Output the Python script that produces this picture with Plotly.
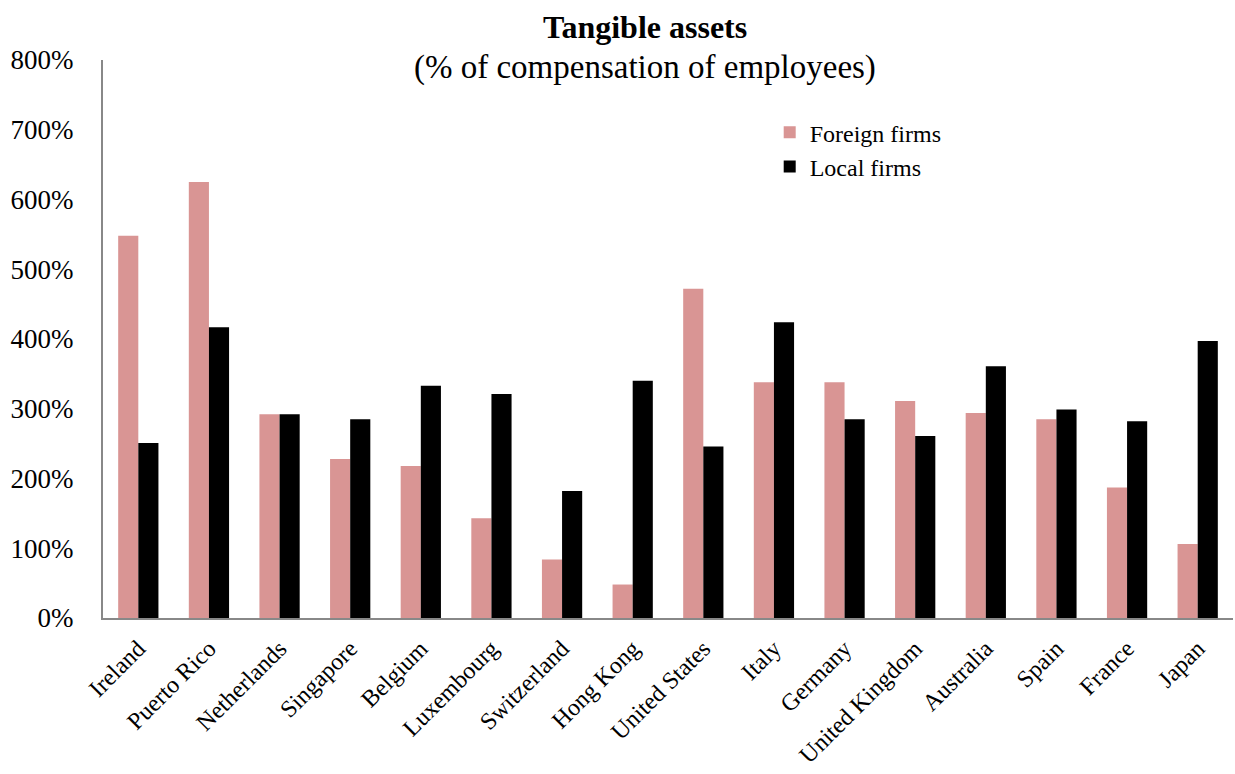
import plotly.graph_objects as go

countries = ["Ireland", "Puerto Rico", "Netherlands", "Singapore", "Belgium", "Luxembourg",
             "Switzerland", "Hong Kong", "United States", "Italy", "Germany", "United Kingdom",
             "Australia", "Spain", "France", "Japan"]
foreign_firms = [548, 625, 292, 228, 218, 143, 84, 48, 472, 338, 338, 311, 294, 285, 187, 106]
local_firms = [251, 417, 292, 285, 333, 321, 182, 340, 246, 424, 285, 261, 361, 299, 282, 397]
y_ticks = [0, 100, 200, 300, 400, 500, 600, 700, 800]
y_tick_labels = ["0%", "100%", "200%", "300%", "400%", "500%", "600%", "700%", "800%"]

FONT = "Liberation Serif"

fig = go.Figure()
fig.add_trace(go.Bar(x=countries, y=foreign_firms, name="Foreign firms",
                     marker=dict(color="#D99594", line=dict(width=0))))
fig.add_trace(go.Bar(x=countries, y=local_firms, name="Local firms",
                     marker=dict(color="#000000", line=dict(width=0))))

fig.update_layout(
    width=1235, height=774,
    paper_bgcolor="white", plot_bgcolor="white",
    margin=dict(l=103, r=2, t=60, b=156),
    barmode="group", bargap=0.43, bargroupgap=0,
    font=dict(family=FONT, color="black", size=24),
    showlegend=True,
    legend=dict(x=0.59, y=0.91, xanchor="left", yanchor="top",
                font=dict(family=FONT, size=24), bgcolor="rgba(0,0,0,0)",
                tracegroupgap=0),
    annotations=[
        dict(text="<b>Tangible assets</b>", x=0.48, y=1.0, xref="paper", yref="paper",
             xanchor="center", yanchor="middle", yshift=33, showarrow=False,
             font=dict(family=FONT, size=32)),
        dict(text="(% of compensation of employees)", x=0.48, y=1.0, xref="paper", yref="paper",
             xanchor="center", yanchor="middle", yshift=-7, showarrow=False,
             font=dict(family=FONT, size=33)),
    ],
)
fig.update_xaxes(showline=True, linecolor="#888888", linewidth=2, ticks="",
                 tickangle=-45, tickfont=dict(family=FONT, size=24), showgrid=False,
                 ticklabelstandoff=5, automargin=False)
fig.update_yaxes(range=[0, 800], tickvals=y_ticks, ticktext=y_tick_labels, showline=True,
                 linecolor="#888888", linewidth=2, ticks="", showgrid=False, zeroline=False,
                 tickfont=dict(family=FONT, size=27), ticklabelstandoff=22, automargin=False)

fig.write_html("out.html", config={"displayModeBar": False},
               post_script="document.body.style.margin='0';")
